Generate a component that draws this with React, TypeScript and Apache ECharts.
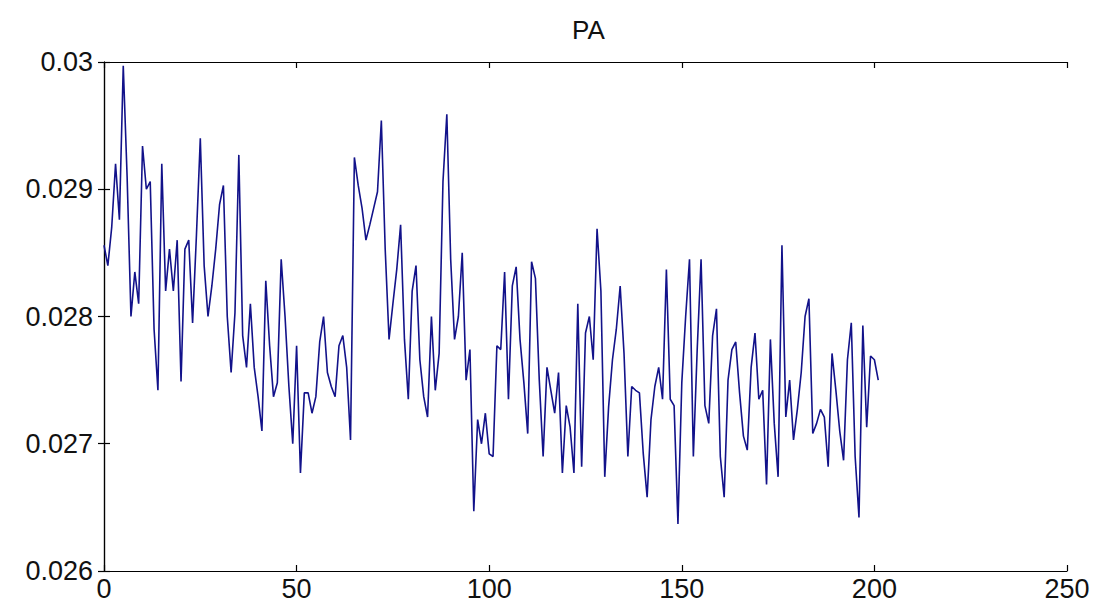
import React, { useEffect, useRef } from "react";
import * as echarts from "echarts";

const titleText = "PA";
const xTicks = [0, 50, 100, 150, 200, 250];
const yTicks = [0.026, 0.027, 0.028, 0.029, 0.03];

const values: number[] = [
  0.02856, 0.0284, 0.0287, 0.0292, 0.02876, 0.02997, 0.0291, 0.028, 0.02835, 0.0281,
  0.02934, 0.029, 0.02906, 0.0279, 0.02742, 0.0292, 0.0282, 0.02853, 0.0282, 0.0286,
  0.02749, 0.02853, 0.0286, 0.02795, 0.02864, 0.0294, 0.0284, 0.028, 0.02824, 0.02853,
  0.02888, 0.02903, 0.028, 0.02756, 0.02803, 0.02927, 0.02785, 0.0276, 0.0281, 0.0276,
  0.02737, 0.0271, 0.02828, 0.02777, 0.02737, 0.02748, 0.02845, 0.028, 0.02745, 0.027,
  0.02777, 0.02677, 0.0274, 0.0274, 0.02724, 0.02737, 0.0278, 0.028, 0.02756, 0.02745,
  0.02737, 0.02777, 0.02785, 0.0276, 0.02703, 0.02925, 0.02903, 0.02885, 0.0286, 0.02872,
  0.02885, 0.02898, 0.02954, 0.02853, 0.02782, 0.0281, 0.02837, 0.02872, 0.02782, 0.02735,
  0.0282, 0.0284, 0.02766, 0.02737, 0.02721, 0.028, 0.02742, 0.02771, 0.02906, 0.02959,
  0.02845, 0.02782, 0.028, 0.0285, 0.0275, 0.02774, 0.02647, 0.02719, 0.027, 0.02724,
  0.02692, 0.0269, 0.02777, 0.02774, 0.02835, 0.02735, 0.02824, 0.02839, 0.02782, 0.02748,
  0.02708, 0.02843, 0.0283, 0.0275, 0.0269, 0.0276, 0.02742, 0.02724, 0.02756, 0.02677,
  0.0273, 0.02713, 0.02677, 0.0281, 0.02682, 0.02787, 0.028, 0.02766, 0.02869, 0.0282,
  0.02674, 0.02729, 0.02766, 0.0279, 0.02824, 0.02771, 0.0269, 0.02745, 0.02742, 0.0274,
  0.02692, 0.02658, 0.02719, 0.02745, 0.0276, 0.02735, 0.02837, 0.02735, 0.0273, 0.02637,
  0.02748, 0.028, 0.02845, 0.0269, 0.02774, 0.02845, 0.0273, 0.02716, 0.02785, 0.02806,
  0.0269, 0.02658, 0.0275, 0.02774, 0.0278, 0.0274, 0.02706, 0.02695, 0.0276, 0.02787,
  0.02735, 0.02742, 0.02668, 0.02782, 0.02716, 0.02674, 0.02856, 0.02721, 0.0275, 0.02703,
  0.02727, 0.02756, 0.028, 0.02814, 0.02708, 0.02716, 0.02727, 0.02721, 0.02682, 0.02771,
  0.02742, 0.0271, 0.02687, 0.02766, 0.02795, 0.0269, 0.02642, 0.02793, 0.02713, 0.02769,
  0.02766, 0.0275,
];

const FONT = "'Liberation Sans', Arial, sans-serif";

export default function App() {
  const ref = useRef<HTMLDivElement>(null);
  useEffect(() => {
    if (!ref.current) return;
    const chart = echarts.init(ref.current, undefined, { renderer: "svg" });
    const data = values.map((v, i) => [i, v]);
    const axisCommon = {
      type: "value" as const,
      axisLine: { show: true, lineStyle: { color: "#000", width: 1.2 } },
      axisTick: { show: true, inside: true, length: 6, lineStyle: { color: "#000", width: 1.2 } },
      splitLine: { show: false },
    };
    chart.setOption({
      animation: false,
      backgroundColor: "#fff",
      title: {
        text: titleText,
        left: 567,
        top: 12,
        textStyle: { fontFamily: FONT, fontSize: 26, fontWeight: "normal", color: "#111" },
      },
      grid: { left: 104, right: 30, top: 62, bottom: 38, containLabel: false },
      xAxis: [
        {
          ...axisCommon,
          position: "bottom",
          min: xTicks[0],
          max: xTicks[xTicks.length - 1],
          interval: 50,
          axisLabel: { show: true, margin: 4, fontFamily: FONT, fontSize: 27, color: "#111" },
        },
        {
          ...axisCommon,
          position: "top",
          min: xTicks[0],
          max: xTicks[xTicks.length - 1],
          interval: 50,
          axisLabel: { show: false },
        },
      ],
      yAxis: [
        {
          ...axisCommon,
          position: "left",
          min: yTicks[0],
          max: yTicks[yTicks.length - 1],
          interval: 0.001,
          axisLabel: {
            show: true,
            margin: 11,
            fontFamily: FONT,
            fontSize: 27,
            color: "#111",
            formatter: (v: number) => String(parseFloat(v.toFixed(4))),
          },
        },
        {
          ...axisCommon,
          position: "right",
          min: yTicks[0],
          max: yTicks[yTicks.length - 1],
          interval: 0.001,
          axisLabel: { show: false },
        },
      ],
      series: [
        {
          type: "line",
          data,
          xAxisIndex: 0,
          yAxisIndex: 0,
          showSymbol: false,
          symbol: "none",
          lineStyle: { color: "#12128a", width: 1.6 },
        },
      ],
    });
    return () => chart.dispose();
  }, []);
  return (
    <div
      ref={ref}
      style={{ position: "fixed", left: 0, top: 0, width: 1097, height: 609, background: "#fff" }}
    />
  );
}
